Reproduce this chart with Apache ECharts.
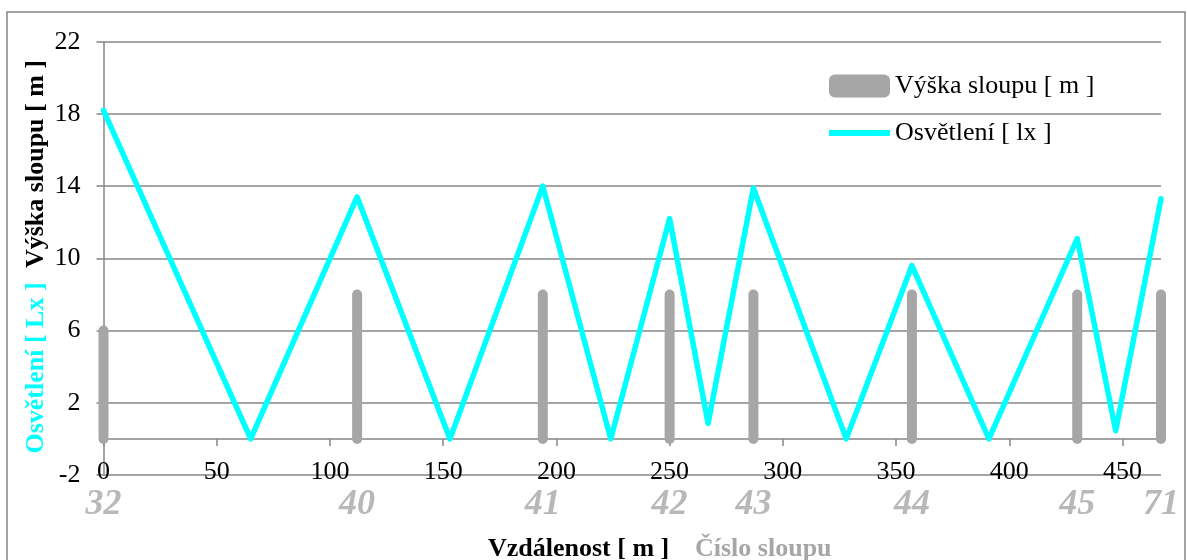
<!doctype html>
<html>
<head>
<meta charset="utf-8" />
<title>Osvětlení a výška sloupů</title>
<script src="https://cdn.jsdelivr.net/npm/echarts@6/dist/echarts.min.js"></script>
<style>
  html, body { margin: 0; padding: 0; background: #fff; }
  #main { width: 1187px; height: 560px; }
</style>
</head>
<body>
<div id="main"></div>
<script>
// osvetleni - vzdalenost [m] a hodnota
var lxX = [0, 65, 112, 153, 194, 224, 250, 267, 287, 328, 357, 391, 430, 447, 467];
var lxY = [18.2, 0, 13.4, 0, 14.0, 0, 12.2, 0.85, 13.9, 0, 9.6, 0, 11.1, 0.45, 13.3];

// sloupy - poloha, vyska, cislo
var poleX = [0, 112, 194, 250, 287, 357, 430, 467];
var poleH = [6, 8, 8, 8, 8, 8, 8, 8];
var poleNo = ['32', '40', '41', '42', '43', '44', '45', '71'];

var FONT = '"Liberation Serif", "Times New Roman", serif';
var GRID = '#878787';
var POLE = '#a6a6a6';
var CYAN = '#00ffff';
var NAME_POLE = 'Výška sloupu [ m ]';
var NAME_LX = 'Osvětlení [ lx ]';

var chart = echarts.init(document.getElementById('main'));

var series = [];
// kazdy sloup jako samostatna cara od 0 do vysky
for (var i = 0; i < poleX.length; i++) {
  series.push({
    name: NAME_POLE,
    type: 'line',
    symbol: 'none',
    silent: true,
    z: 2,
    data: [[poleX[i], 0], [poleX[i], poleH[i]]],
    lineStyle: { width: 10, color: POLE, cap: 'round' },
    itemStyle: { color: POLE }
  });
}

var lxData = [];
for (var j = 0; j < lxX.length; j++) lxData.push([lxX[j], lxY[j]]);
series.push({
  name: NAME_LX,
  type: 'line',
  symbol: 'none',
  z: 3,
  data: lxData,
  lineStyle: { width: 5.5, color: CYAN, cap: 'round', join: 'round' },
  itemStyle: { color: CYAN }
});

// cisla sloupu pod osou
var noData = [];
for (var k = 0; k < poleX.length; k++) noData.push([poleX[k], 0]);
series.push({
  name: 'cislo',
  type: 'scatter',
  symbolSize: 0,
  silent: true,
  clip: false,
  data: noData,
  label: {
    show: true,
    position: 'bottom',
    distance: 48,
    formatter: function (p) { return poleNo[p.dataIndex]; },
    color: POLE,
    fontFamily: FONT,
    fontSize: 36,
    fontWeight: 'bold',
    fontStyle: 'italic'
  }
});

var option = {
  animation: false,
  backgroundColor: '#fff',
  grid: { left: 103.5, right: 26, top: 41.7, bottom: 85 },
  legend: {
    orient: 'vertical',
    left: 824,
    top: 68,
    itemWidth: 61,
    itemHeight: 23,
    itemGap: 21,
    textStyle: { fontFamily: FONT, fontSize: 26, color: '#000' },
    data: [
      { name: NAME_POLE, icon: 'roundRect', itemStyle: { color: POLE } },
      { name: NAME_LX, icon: 'path://M0,0h56v5.5h-56z', itemStyle: { color: CYAN } }
    ]
  },
  xAxis: {
    type: 'value',
    min: 0,
    max: 467,
    interval: 50,
    axisLine: { onZero: true, lineStyle: { color: GRID, width: 1.5 } },
    axisTick: { show: true, length: 7, lineStyle: { color: GRID, width: 1.5 } },
    axisLabel: {
      margin: -16,
      color: '#000',
      fontFamily: FONT,
      fontSize: 26,
      showMaxLabel: false
    },
    splitLine: { show: false }
  },
  yAxis: {
    type: 'value',
    min: -2,
    max: 22,
    interval: 4,
    axisLine: { show: true, lineStyle: { color: GRID, width: 1.5 } },
    axisTick: { show: true, length: 7, lineStyle: { color: GRID, width: 1.5 } },
    axisLabel: { margin: 23, color: '#000', fontFamily: FONT, fontSize: 26 },
    splitLine: { show: true, lineStyle: { color: GRID, width: 1.5 } }
  },
  graphic: [
    {
      type: 'rect',
      silent: true,
      shape: { x: 7, y: 12, width: 1178, height: 560 },
      style: { fill: 'none', stroke: GRID, lineWidth: 1.5 }
    },
    {
      type: 'text',
      x: 36, y: 164,
      rotation: Math.PI / 2,
      style: {
        text: 'Výška sloupu [ m ]',
        fill: '#000',
        font: 'bold 26px ' + FONT,
        align: 'center',
        verticalAlign: 'middle'
      }
    },
    {
      type: 'text',
      x: 36, y: 368,
      rotation: Math.PI / 2,
      style: {
        text: 'Osvětlení [ Lx ]',
        fill: CYAN,
        font: 'bold 26px ' + FONT,
        align: 'center',
        verticalAlign: 'middle'
      }
    },
    {
      type: 'text',
      x: 488, y: 549,
      style: {
        text: 'Vzdálenost [ m ]',
        fill: '#000',
        font: 'bold 26px ' + FONT,
        verticalAlign: 'middle'
      }
    },
    {
      type: 'text',
      x: 695, y: 549,
      style: {
        text: 'Číslo sloupu',
        fill: POLE,
        font: 'bold 26px ' + FONT,
        verticalAlign: 'middle'
      }
    }
  ],
  series: series
};

chart.setOption(option);
</script>
</body>
</html>
